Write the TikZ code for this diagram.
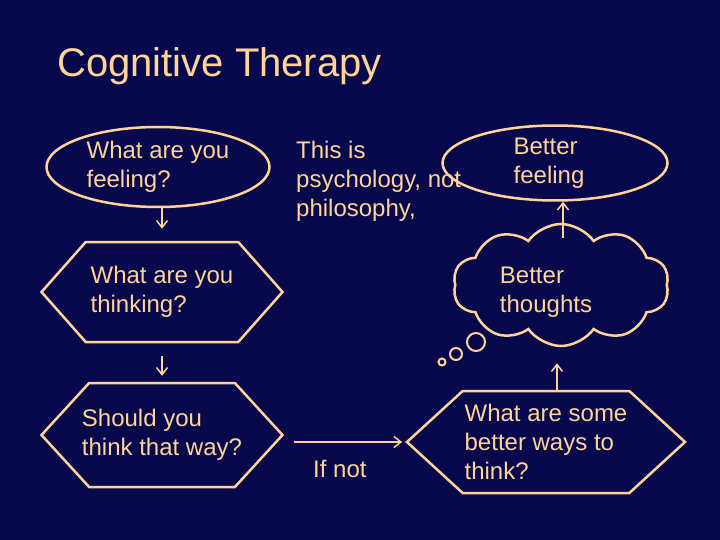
\documentclass[tikz,border=0pt]{standalone}
\usepackage{fontspec}
\setmainfont{Liberation Sans}
\usetikzlibrary{shapes.geometric,shapes.symbols,arrows.meta}
\definecolor{navy}{RGB}{8,8,76}
\definecolor{peach}{RGB}{255,212,150}
\tikzset{
    txt/.style={text=peach, align=left, inner sep=0pt, font=\fontsize{24}{29}\selectfont},
    oval/.style={ellipse, draw=peach, line width=2.5pt, inner sep=0pt, txt},
    hexa/.style={signal, signal to=east and west, draw=peach, line width=2.5pt, inner sep=0pt, txt},
    link/.style={draw=peach, line width=1.5pt, -{Straight Barb[length=7pt,width=11pt]}},
}
\begin{document}
\begin{tikzpicture}[x=1pt,y=-1pt]
\fill[navy] (0,0) rectangle (720,540);
\useasboundingbox (0,0) rectangle (720,540);

\node[text=peach, inner sep=0pt, anchor=base west, font=\fontsize{40}{48}\selectfont] (title) at (57,77) {Cognitive Therapy};

% left column
\node[oval, minimum width=223pt, minimum height=80pt] (feel) at (158,167) {What are you\\feeling?};
\node[hexa, signal pointer angle=97, minimum width=241pt, minimum height=100pt] (think) at (162,292) {What are you\\thinking?};
\node[hexa, signal pointer angle=95, inner xsep=-8pt, minimum width=241pt, minimum height=104pt] (should) at (162,435) {Should you\\think that way?};

% middle
\node[txt, anchor=west] (note) at (296,181) {This is\\psychology, not\\philosophy,};
\node[txt, anchor=west] (ifnot) at (313,469) {If not};

% right column
\node[hexa, signal pointer angle=85, minimum width=278pt, minimum height=102pt] (ways) at (546,442) {What are some\\better ways to\\think?};
\node[cloud, cloud puffs=10, cloud puff arc=110, aspect=1.7, draw=peach, line width=2.5pt,
    minimum width=216pt, minimum height=122pt] (cloud) at (561,285) {};
\node[txt] (thoughts) at (546,292) {Better\\thoughts};
\node[circle, draw=peach, line width=2pt, minimum size=18pt, inner sep=0pt] (bub1) at (476,342) {};
\node[circle, draw=peach, line width=2pt, minimum size=12pt, inner sep=0pt] (bub2) at (456,354) {};
\node[circle, draw=peach, line width=2pt, minimum size=7pt, inner sep=0pt] (bub3) at (442,362) {};
\node[oval, minimum width=225pt, minimum height=75pt] (goodfeel) at (555,163) {\hspace*{-12pt}Better\\\hspace*{-12pt}feeling};

% arrows
\draw[link, shorten >=12pt] (feel.south -| think.north) -- (think.north);
\draw[link, shorten <=13pt, shorten >=6pt] (think.south) -- (should.north);
\draw[link, shorten <=10pt, shorten >=3pt] (should.east |- ways.west) -- (ways.west);
\draw[link, shorten >=16pt] (ways.north -| 557,0) -- (cloud.south -| 557,0);
\draw[link, shorten <=-15pt] (cloud.north -| 563,0) -- (goodfeel.south -| 563,0);
\end{tikzpicture}
\end{document}
